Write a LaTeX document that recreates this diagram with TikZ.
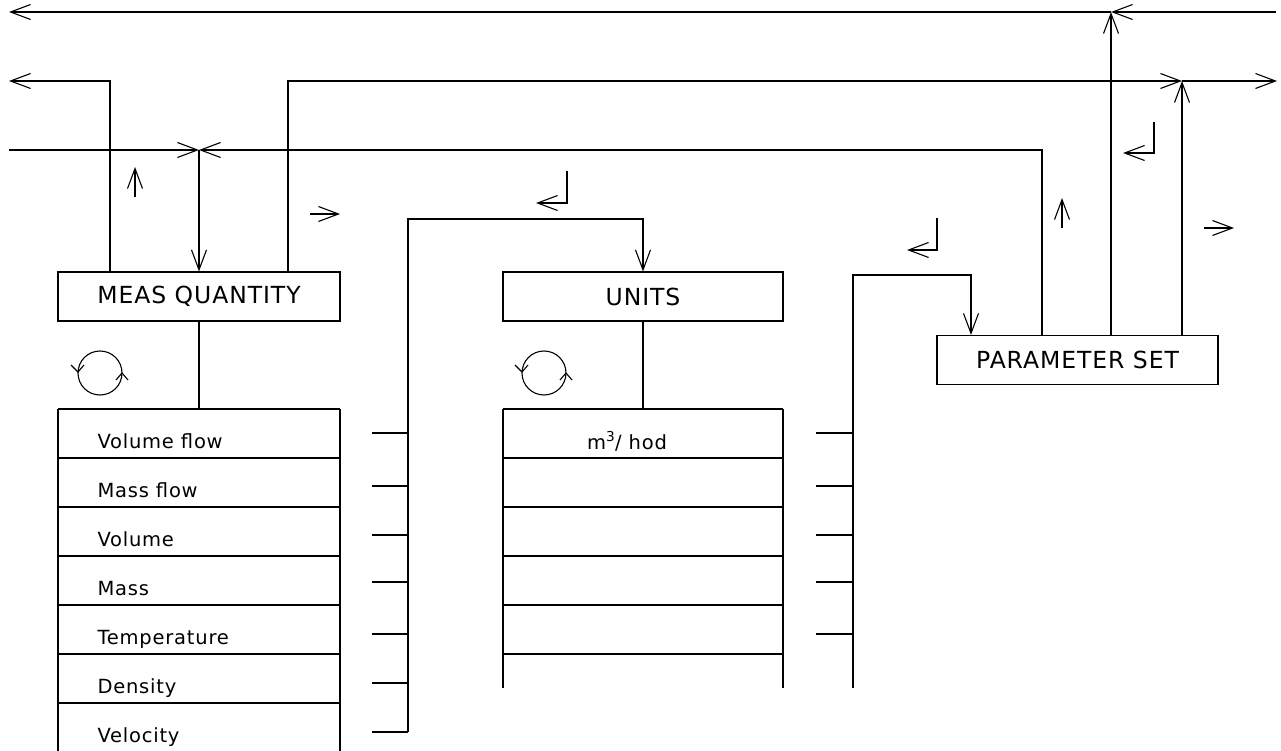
\documentclass[tikz,border=0pt]{standalone}
\usepackage{fontspec}
\setmainfont{DejaVu Sans}[LetterSpace=4.0]
\usetikzlibrary{arrows.meta}

\tikzset{
    box/.style={draw, minimum height=49pt, inner sep=0pt, font=\fontsize{23.5}{23.5}\selectfont},
    item/.style={anchor=base west, inner sep=0pt, font=\fontsize{19.5}{19.5}\selectfont},
    arr/.style={-{Straight Barb[length=20pt,width=15pt]}},
}

\begin{document}
\begin{tikzpicture}[x=1pt,y=-1pt,line width=1.1pt]
    \useasboundingbox (0,0) rectangle (1281,751);
    % blocks
    \node[box, minimum width=282pt] (mq) at (199,296.5) {MEAS QUANTITY};
    \node[box, minimum width=280pt] (units) at (643,296.5) {UNITS};
    \node[box, minimum width=281pt] (pset) at (1077.5,360) {PARAMETER SET};
    % bus ends and junctions
    \coordinate (topR) at (1276,12);
    \coordinate (topL) at (9,12);
    \coordinate (j1) at (1111,12);
    \coordinate (midL) at (9,81);
    \coordinate (midR) at (1277,81);
    \coordinate (j2) at (1182,81);
    \coordinate (lowL) at (9,150);
    \coordinate (j3) at (199,150);
    \coordinate (c3) at (1042,150);
    % buses
    \draw[arr] (topR) -- (j1);
    \draw[arr] (j1) -- (topL);
    \draw[arr] (pset.north -| j1) -- (j1);
    \draw[arr] ([xshift=-89pt]mq.north) |- (midL);
    \draw[arr] ([xshift=89pt]mq.north) |- (j2);
    \draw[arr] (j2) -- (midR);
    \draw[arr] (pset.north -| j2) -- (j2);
    \draw[arr] (lowL) -- (j3);
    \draw[arr] (pset.north -| c3) |- (j3);
    \draw[arr] (j3) -- (mq.north);
    % selection brackets
    \coordinate (k1) at (408,219);
    \coordinate (k1b) at (408,732);
    \draw[arr] (k1b) -- (k1) -| (units.north);
    \foreach \y in {433,486,535,582,634,683,732}
        \draw (372,\y) -- (408,\y);
    \coordinate (k2) at (853,275);
    \coordinate (k2b) at (853,688);
    \draw[arr] (k2b) -- (k2) -| ([xshift=-106.5pt]pset.north);
    \foreach \y in {433,486,535,582,634}
        \draw (816,\y) -- (853,\y);
    % lists
    \draw (mq.south) -- (199,409);
    \draw (units.south) -- (643,409);
    \foreach \y in {409,458,...,703}
        \draw (58,\y) -- (340,\y);
    \draw (58,409) -- (58,751) (340,409) -- (340,751);
    \foreach \y in {409,458,...,654}
        \draw (503,\y) -- (783,\y);
    \draw (503,409) -- (503,688) (783,409) -- (783,688);
    \foreach \t [count=\i] in {Volume flow,Mass flow,Volume,Mass,Temperature,Density,Velocity}
        \node[item] (q\i) at (97,{399+49*\i}) {\t};
    \node[item, anchor=base] (u1) at (627,449) {m\textsuperscript{3}/ hod};
    % scroll symbols
    \foreach \cx in {100,544} {
        \draw (\cx,373) circle[radius=22pt];
        \draw ({\cx-29},365) -- ({\cx-22},372) -- ({\cx-16},365);
        \draw ({\cx+16},380) -- ({\cx+22},373) -- ({\cx+28},380);
    }
    % direction marks
    \draw[arr] (135,197) -- (135,167);
    \draw[arr] (1062,228) -- (1062,198);
    \draw[arr] (310,214) -- (340,214);
    \draw[arr] (1204,228) -- (1234,228);
    \draw[arr] (567,171) |- (536,203);
    \draw[arr] (1154,122) |- (1123,153);
    \draw[arr] (937,218) |- (907,250);
\end{tikzpicture}
\end{document}
